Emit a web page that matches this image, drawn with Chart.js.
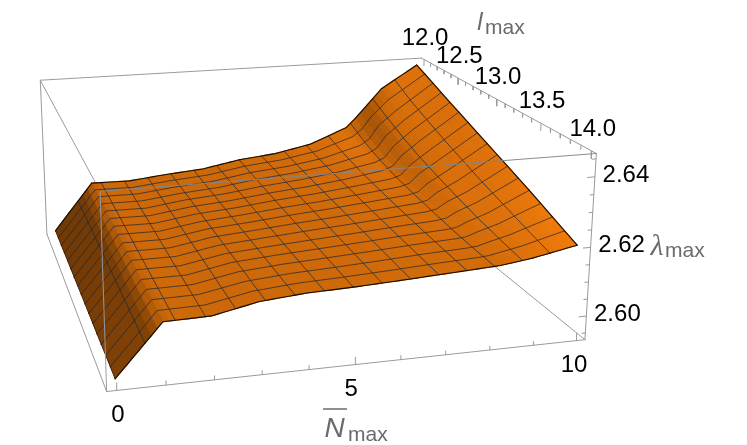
<!DOCTYPE html>
<html><head><meta charset="utf-8">
<style>html,body{margin:0;padding:0;background:#fff}#w{width:747px;height:445px}</style>
<script src="https://cdn.jsdelivr.net/npm/chart.js@4"></script>
</head><body><div id="w"><canvas id="c" width="747" height="445"></canvas></div>
<script>
// ---- data ----
const nValues = [0,1,2,3,4,5,6,7,8,8.25,8.5,9,10];
const lValues = [12,12.25,12.5,12.75,13,13.25,13.5,13.75,14];
const lambdaL1200 = [2.5948,2.6106,2.6104,2.6117,2.6127,2.6150,2.6163,2.6188,2.6238,2.6268,2.6302,2.6370,2.6447];
const lambdaL1225 = [2.5948,2.6105,2.6104,2.6118,2.6128,2.6148,2.6160,2.6180,2.6215,2.6235,2.6280,2.6330,2.6416];
const lambdaL1250 = [2.5949,2.6104,2.6103,2.6120,2.6130,2.6146,2.6158,2.6174,2.6198,2.6212,2.6250,2.6300,2.6385];
const lambdaL1275 = [2.5949,2.6103,2.6102,2.6121,2.6131,2.6145,2.6156,2.6170,2.6186,2.6196,2.6228,2.6272,2.6355];
const lambdaL1300 = [2.5950,2.6101,2.6101,2.6122,2.6132,2.6144,2.6154,2.6166,2.6178,2.6186,2.6212,2.6248,2.6325];
const lambdaL1325 = [2.5950,2.6100,2.6100,2.6123,2.6133,2.6143,2.6152,2.6162,2.6172,2.6178,2.6198,2.6225,2.6295];
const lambdaL1350 = [2.5950,2.6098,2.6099,2.6124,2.6134,2.6142,2.6150,2.6159,2.6166,2.6170,2.6184,2.6206,2.6265];
const lambdaL1375 = [2.5951,2.6097,2.6099,2.6124,2.6135,2.6141,2.6148,2.6156,2.6162,2.6165,2.6174,2.6190,2.6232];
const lambdaL1400 = [2.5951,2.6095,2.6098,2.6125,2.6136,2.6140,2.6146,2.6153,2.6160,2.6162,2.6166,2.6175,2.6200];
const lambdaRows = [lambdaL1200,lambdaL1225,lambdaL1250,lambdaL1275,lambdaL1300,lambdaL1325,lambdaL1350,lambdaL1375,lambdaL1400];
const nTicks = [0,1,2,3,4,5,6,7,8,9,10];
const nTickLabels = ['0','5','10'];
const lTickLabels = ['12.0','12.5','13.0','13.5','14.0'];
const zTickLabels = ['2.60','2.62','2.64'];

// ---- view: where the plot box corners land on the page ----
const W=747,H=445;
const boxCalib=[[0,0,1,40,81],[1,0,1,422,58],[1,1,1,596,154],[0,1,1,100,190],[0,0,0,47,234],[0,1,0,107,392],[1,1,0,585,340],[1,0,0,417,203]];
function solveCamera(){
  const rows=[],rhs=[];
  for(const [u,v,w,x,y] of boxCalib){
    rows.push([u,v,w,1,0,0,0,0,-x*u,-x*v,-x*w]);rhs.push(x);
    rows.push([0,0,0,0,u,v,w,1,-y*u,-y*v,-y*w]);rhs.push(y);
  }
  const n=11,A=Array.from({length:n},()=>new Array(n+1).fill(0));
  rows.forEach((r,k)=>{for(let i=0;i<n;i++){for(let j=0;j<n;j++)A[i][j]+=r[i]*r[j];A[i][n]+=r[i]*rhs[k];}});
  for(let i=0;i<n;i++){
    let p=i;for(let r=i+1;r<n;r++)if(Math.abs(A[r][i])>Math.abs(A[p][i]))p=r;
    [A[i],A[p]]=[A[p],A[i]];
    for(let r=0;r<n;r++){if(r===i)continue;const f=A[r][i]/A[i][i];for(let c=i;c<=n;c++)A[r][c]-=f*A[i][c];}
  }
  return A.map((r,i)=>r[n]/r[i]);
}
const cam=solveCamera();
function prj(u,v,w){const d=cam[8]*u+cam[9]*v+cam[10]*w+1;
  return {x:(cam[0]*u+cam[1]*v+cam[2]*w+cam[3])/d,y:(cam[4]*u+cam[5]*v+cam[6]*w+cam[7])/d};}
const uN=N=>0.02+0.96*N/10, vL=l=>0.02+0.96*(l-12)/2, wZ=z=>(z-2.593)/(2.6465-2.593);

function lam(N,l){
  let a=0;while(a<nValues.length-2&&N>=nValues[a+1])a++;
  const fa=(N-nValues[a])/(nValues[a+1]-nValues[a]);
  const t=(l-12)/0.25,b=Math.min(7,Math.floor(t)),fb=t-b;
  const r0=lambdaRows[b],r1=lambdaRows[b+1];
  return (r0[a]*(1-fa)+r0[a+1]*fa)*(1-fb)+(r1[a]*(1-fa)+r1[a+1]*fa)*fb;
}
const P=(N,l)=>prj(uN(N),vL(l),wZ(lam(N,l)));

function shade(N,l){
  const e=0.25,e2=0.2;
  const n0=Math.max(0,N-e),n1=Math.min(10,N+e);
  const l0=Math.max(12,l-e2),l1=Math.min(14,l+e2);
  const gN=(lam(n1,l)-lam(n0,l))/(n1-n0);
  const gL=-(lam(N,l1)-lam(N,l0))/(l1-l0);
  const t=Math.max(0,Math.min(1,gN/0.0155));
  let f=1-0.44*Math.pow(t,2.2)+0.17*Math.min(1,Math.max(0,gL/0.0123))+0.02*(N/10);
  return `rgb(${Math.round(Math.min(255,204*f))},${Math.round(Math.min(150,104*f))},${Math.round(9*f)})`;
}

// ---- datasets (dataset 0 paints on top) ----
const datasets=[];
function line(pts,color,width){datasets.push({type:'scatter',data:pts,showLine:true,fill:false,borderColor:color,borderWidth:width,pointRadius:0,tension:0});}
const frame='#9a9a9a';
const B=(u,v,w)=>prj(u,v,w);
// front frame
line([B(0,1,1),B(1,1,1)],'rgba(125,135,145,0.95)',1);
line([B(0,1,1),B(0,1,0)],'rgba(150,155,160,0.95)',1);
line([B(1,1,1),B(1,1,0)],frame,1);
line([B(0,1,0),B(1,1,0)],frame,1);
line([B(0,0,1),B(1,0,1)],frame,1);
line([B(1,0,1),B(1,1,1)],frame,1);
// ticks
nTicks.forEach(n=>{const u=uN(n),len=(n%5===0)?0.04:0.022;line([B(u,1,0),B(u,1,len)],frame,1);});
for(let i=0;i<=20;i++){const l=12+i/10,v=vL(l),len=(i%5===0)?0.04:0.022;line([B(1,v,1),B(1,v,1-len)],frame,1);}
for(let i=0;i<=10;i++){const z=2.595+i*0.005,len=(i%4===1)?0.016:0.008;const wv=wZ(z);if(wv<=1)line([B(1,1,wv),B(1-len,1,wv)],frame,1);}

// surface sampling
const stepN=0.125, stepL=0.125, nc=80, nr=16;
// boundary
const edge=[];
for(let i=0;i<=nc;i++)edge.push(P(i*stepN,12));
line(edge,'#140c04',1.1);
const edgeF=[];for(let i=0;i<=nc;i++)edgeF.push(P(i*stepN,14));
line(edgeF,'#140c04',1.1);
const edgeR=[];for(let j=0;j<=nr;j++)edgeR.push(P(10,12+j*stepL));
line(edgeR,'#140c04',1.1);
const edgeL=[];for(let j=0;j<=nr;j++)edgeL.push(P(0,12+j*stepL));
line(edgeL,'#3a2005',1);
// mesh
const meshColor='rgba(30,38,52,0.8)';
for(let k=1;k<16;k++){
  const a=[];for(let j=0;j<=nr;j++)a.push(P(k*0.625,12+j*stepL));line(a,meshColor,0.9);
  const b=[];for(let i=0;i<=nc;i++)b.push(P(i*stepN,12+k*0.125));line(b,meshColor,0.9);
}
// quads, near ones first so far ones paint underneath
const cells=[];
for(let j=nr-1;j>=0;j--)for(let i=nc-1;i>=0;i--)cells.push([i,j]);
cells.sort((p,q)=>(q[1]-p[1])||(p[0]-q[0]));
for(const [i,j] of cells){
  const n0=i*stepN,n1=n0+stepN,l0=12+j*stepL,l1=l0+stepL,c=shade(n0+stepN/2,l0+stepL/2);
  datasets.push({type:'scatter',data:[P(n0,l0),P(n1,l0),P(n1,l1),P(n0,l1)],showLine:true,fill:'shape',
    backgroundColor:c,borderColor:c,borderWidth:1.2,pointRadius:0,tension:0});
}
// rear frame
line([B(0,0,1),B(0,0,0)],frame,1);
line([B(0,0,1),B(0,1,1)],frame,1);
line([B(0,0,0),B(0,1,0)],frame,1);
line([B(1,0,0),B(1,1,0)],frame,1);

const labelPlugin={id:'labels',afterDraw(chart){
  const ctx=chart.ctx,X=chart.scales.x,Y=chart.scales.y;
  const t=(s,x,y,font,col,al)=>{ctx.font=font;ctx.fillStyle=col;ctx.textAlign=al||'center';ctx.textBaseline='alphabetic';ctx.fillText(s,X.getPixelForValue(x),Y.getPixelForValue(y));};
  const tf='24px "Liberation Sans"';
  ctx.save();
  nTickLabels.forEach(s=>{const p=B(uN(+s),1,0);const nudge=+s===0?1:(+s===5?-4:-2);t(s,p.x+nudge,p.y+31.5,tf,'#000');});
  lTickLabels.forEach(s=>{const p=B(1,vL(+s),1);t(s,p.x+1,p.y-15,tf,'#000');});
  zTickLabels.forEach(s=>{const p=B(1,1,wZ(+s));t(s,p.x+31,p.y+5,tf,'#000');});
  const g='#6a6a6a';
  t('l',480,30,'italic 24px "Liberation Sans"',g);
  t('max',485,34,'21px "Liberation Sans"',g,'left');
  t('λ',657,255,'italic 30px "Liberation Serif"',g);
  t('max',665,257,'21px "Liberation Sans"',g,'left');
  t('N',334.5,437,'italic 28px "Liberation Sans"',g);
  t('max',348,441,'21px "Liberation Sans"',g,'left');
  ctx.strokeStyle=g;ctx.lineWidth=1.5;ctx.beginPath();ctx.moveTo(X.getPixelForValue(323),Y.getPixelForValue(409));ctx.lineTo(X.getPixelForValue(347),Y.getPixelForValue(409));ctx.stroke();
  ctx.restore();
}};
new Chart(document.getElementById('c'),{
  type:'scatter',
  data:{datasets},
  plugins:[labelPlugin],
  options:{responsive:false,animation:false,events:[],layout:{padding:0},
    plugins:{legend:{display:false},tooltip:{enabled:false},title:{display:false}},
    elements:{line:{borderCapStyle:'round',borderJoinStyle:'round'}},
    scales:{
      x:{type:'linear',min:0,max:W,display:false},
      y:{type:'linear',min:0,max:H,reverse:true,display:false}
    }}
});
</script></body></html>
